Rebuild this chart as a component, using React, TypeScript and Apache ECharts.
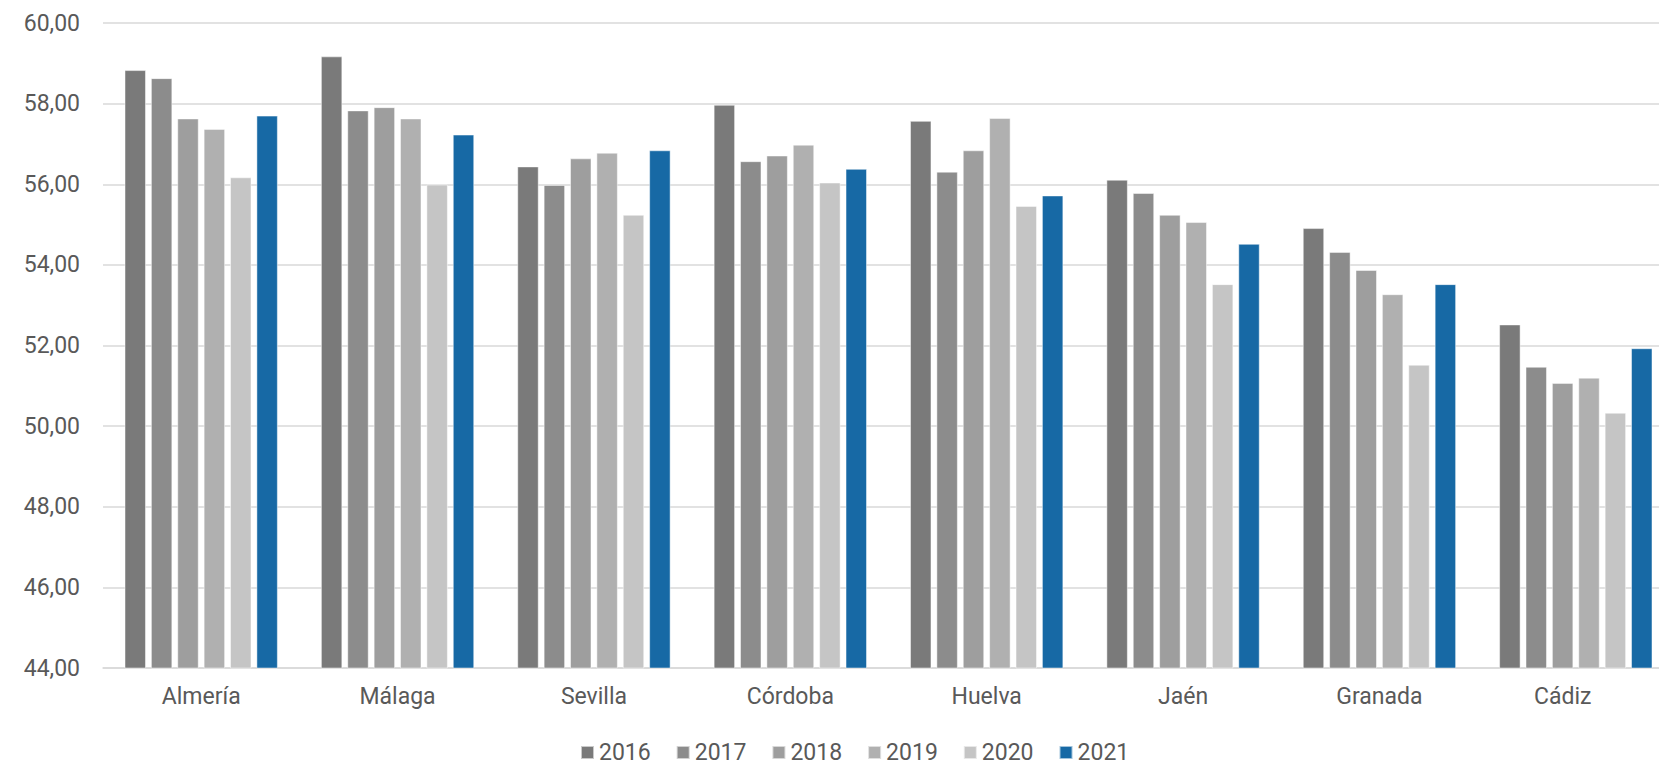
import React, { useEffect, useRef } from "react";
import * as echarts from "echarts";

const categories = ["Almería", "Málaga", "Sevilla", "Córdoba", "Huelva", "Jaén", "Granada", "Cádiz"];
const years = ["2016", "2017", "2018", "2019", "2020", "2021"];
const v2016 = [58.83, 59.17, 56.44, 57.97, 57.57, 56.11, 54.91, 52.52];
const v2017 = [58.63, 57.83, 55.98, 56.57, 56.31, 55.78, 54.32, 51.47];
const v2018 = [57.63, 57.91, 56.64, 56.71, 56.84, 55.24, 53.87, 51.07];
const v2019 = [57.37, 57.63, 56.78, 56.98, 57.64, 55.06, 53.27, 51.2];
const v2020 = [56.17, 55.99, 55.24, 56.04, 55.46, 53.52, 51.52, 50.33];
const v2021 = [57.7, 57.23, 56.84, 56.38, 55.72, 54.52, 53.52, 51.93];
const seriesValues = [v2016, v2017, v2018, v2019, v2020, v2021];
const colors = ["#7a7a7a", "#8c8c8c", "#9e9e9e", "#b0b0b0", "#c5c5c5", "#1769a5"];
const yMin = 44;
const yMax = 60;
const yInterval = 2;

export default function App() {
  const ref = useRef<HTMLDivElement>(null);
  useEffect(() => {
    if (!ref.current) return;
    const chart = echarts.init(ref.current, null, { renderer: "svg" });
    const font = "Roboto, 'Liberation Sans', sans-serif";
    const lastIdx = categories.length - 1;
    chart.setOption({
      animation: false,
      color: colors,
      grid: { left: 103, right: 0, top: 23, bottom: 97, containLabel: false, outerBoundsMode: "none" },
      legend: {
        left: 575,
        top: 736,
        itemWidth: 13,
        itemHeight: 13,
        itemGap: 25,
        icon: "rect",
        textStyle: { color: "#595959", fontSize: 23, fontFamily: font },
        data: years,
      },
      xAxis: {
        type: "category",
        data: categories,
        axisLine: { lineStyle: { color: "#d9d9d9", width: 1.5 } },
        axisTick: { show: false },
        axisLabel: {
          color: "#595959",
          fontSize: 23,
          fontFamily: font,
          margin: 17,
          formatter: (v: string, i: number) => (i === lastIdx ? `{last|${v}}` : v),
          rich: {
            last: { color: "#595959", fontSize: 23, fontFamily: font, padding: [0, 26, 0, 0] },
          },
        },
      },
      yAxis: {
        type: "value",
        min: yMin,
        max: yMax,
        interval: yInterval,
        axisLine: { show: false },
        axisTick: { show: false },
        splitLine: { lineStyle: { color: "#d9d9d9", width: 1.5 } },
        axisLabel: {
          color: "#595959",
          fontSize: 23,
          fontFamily: font,
          margin: 23,
          formatter: (v: number) => v.toFixed(2).replace(".", ","),
        },
      },
      series: years.map((y, i) => ({
        name: y,
        type: "bar",
        data: seriesValues[i],
        barGap: "24%",
        barCategoryGap: "22%",
        itemStyle: { borderColor: "rgba(255,255,255,0.6)", borderWidth: 0.8 },
      })),
    });
    return () => chart.dispose();
  }, []);
  return (
    <div style={{ position: "absolute", left: 0, top: 0, width: 1659, height: 765, background: "#fff", overflow: "hidden" }}>
      <div ref={ref} style={{ position: "absolute", left: 0, top: 0, width: 1674, height: 765 }} />
    </div>
  );
}
